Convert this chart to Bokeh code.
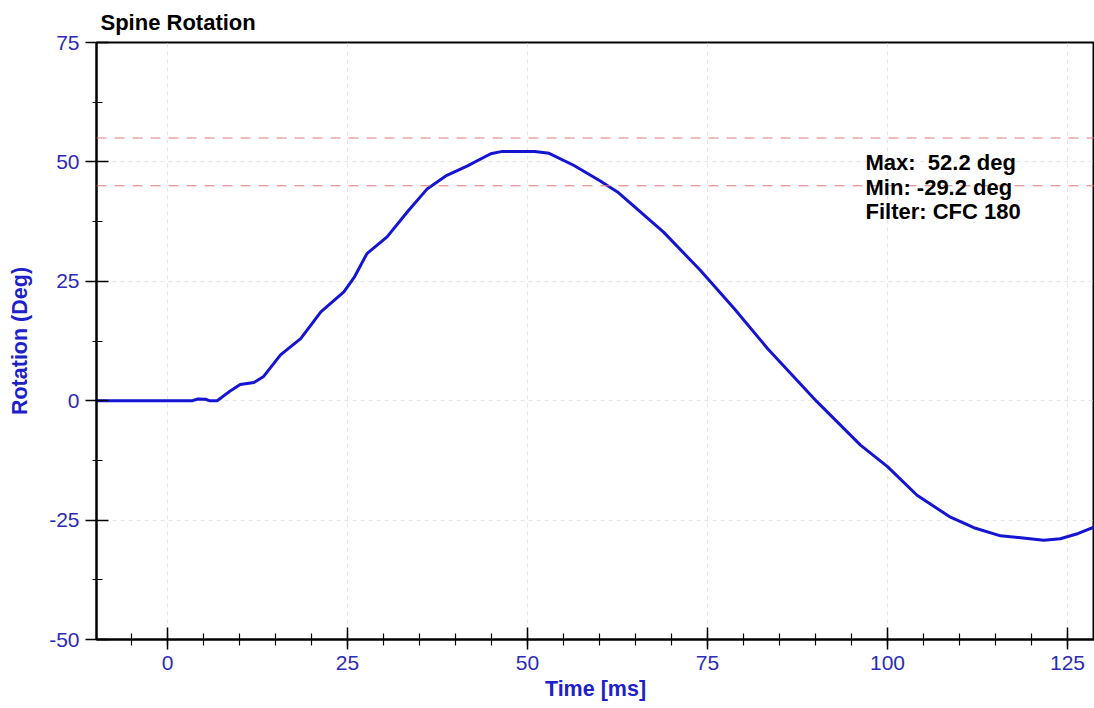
from bokeh.plotting import figure
from bokeh.models import Span, Label, SingleIntervalTicker, Range1d
from bokeh.embed import file_html
from bokeh.resources import INLINE

# ---- data ----
time_ms = [-10, 0, 3.5, 4.2, 5.3, 5.8, 6.9, 8.5, 10.1, 12.0, 13.3, 15.7, 18.5, 21.3,
           24.5, 26.0, 27.7, 30.5, 33.3, 36.1, 38.8, 41.6, 44.9, 46.5, 51.0, 53.0,
           56.4, 60.0, 62.5, 68.9, 74.0, 78.7, 83.3, 90.2, 96.25, 100.0, 104.1,
           108.75, 112.0, 115.7, 118.5, 121.7, 124.0, 126.5, 130.0]
rotation_deg = [0, 0, 0, 0.35, 0.3, 0, 0, 1.8, 3.4, 3.8, 5.0, 9.6, 13.0, 18.6,
                22.8, 26.0, 30.8, 34.3, 39.5, 44.4, 47.2, 49.1, 51.7, 52.2, 52.2, 51.8,
                49.3, 46.1, 43.7, 35.3, 27.3, 19.3, 11.0, -0.2, -9.3, -13.8, -19.8,
                -24.4, -26.6, -28.3, -28.7, -29.2, -28.9, -27.8, -25.7]
limit_lines = [55, 45]
y_ticks = [-50, -25, 0, 25, 50, 75]
y_tick_labels = ["-50", "-25", "0", "25", "50", "75"]
x_ticks = [0, 25, 50, 75, 100, 125]
x_tick_labels = ["0", "25", "50", "75", "100", "125"]
title_text = "Spine Rotation"
annotation_lines = ["Max: \u00a052.2 deg", "Min: -29.2 deg", "Filter: CFC 180"]

FONT = "Liberation Sans"
BLUE_TXT = "#2b2bb8"
BLUE_LBL = "#2020c8"

p = figure(width=1094, height=708, output_backend="svg", toolbar_location=None,
           x_range=Range1d(-9.86, 128.75), y_range=Range1d(-50, 75),
           min_border_left=96, min_border_right=0, min_border_top=41,
           min_border_bottom=69, title=title_text)

p.title.text_font = FONT
p.title.text_font_size = "22px"
p.title.text_font_style = "bold"
p.title.text_color = "black"
p.title.align = "left"
p.title.offset = 4
p.title.standoff = 15

p.outline_line_color = "black"
p.outline_line_width = 2
p.background_fill_color = "white"
p.border_fill_color = "white"

p.xaxis.ticker = SingleIntervalTicker(interval=25, num_minor_ticks=5)
p.yaxis.ticker = SingleIntervalTicker(interval=25, num_minor_ticks=2)
p.xaxis.major_label_overrides = dict(zip(x_ticks, x_tick_labels))
p.yaxis.major_label_overrides = dict(zip(y_ticks, y_tick_labels))

p.xaxis.axis_label = "Time [ms]"
p.yaxis.axis_label = "Rotation (Deg)"

for ax in (p.xaxis[0], p.yaxis[0]):
    ax.axis_line_color = "black"
    ax.axis_line_width = 2
    ax.major_tick_line_color = "black"
    ax.major_tick_line_width = 1.5
    ax.minor_tick_line_color = "black"
    ax.minor_tick_line_width = 1.2
    ax.major_label_text_font = FONT
    ax.major_label_text_font_size = "21px"
    ax.major_label_text_color = BLUE_TXT
    ax.axis_label_text_font = FONT
    ax.axis_label_text_font_size = "21.5px"
    ax.axis_label_text_font_style = "bold"
    ax.axis_label_text_color = BLUE_LBL

p.xaxis.major_tick_in = 12
p.xaxis.major_tick_out = 10
p.xaxis.minor_tick_in = 6
p.xaxis.minor_tick_out = 6
p.xaxis.major_label_standoff = 6
p.xaxis.axis_label_standoff = 4

p.yaxis.major_tick_in = 12
p.yaxis.major_tick_out = 11
p.yaxis.minor_tick_in = 6
p.yaxis.minor_tick_out = 4
p.yaxis.major_label_standoff = 6
p.yaxis.axis_label_standoff = 14

p.xgrid.grid_line_color = "#e6e6e6"
p.xgrid.grid_line_dash = "4 4"
p.ygrid.grid_line_color = "#e6e6e6"
p.ygrid.grid_line_dash = "4 4"

for yv in limit_lines:
    p.add_layout(Span(location=yv, dimension="width", line_color="#e07a7a",
                      line_width=1, line_dash="10 8"))

p.line(time_ms, rotation_deg, line_color="#1414d2", line_width=3)

for i, txt in enumerate(annotation_lines):
    p.add_layout(Label(x=769, y=477 - i * 24.5, x_units="screen", y_units="screen",
                       text=txt, text_font=FONT, text_font_size="22px",
                       text_font_style="bold", text_color="black",
                       text_baseline="middle", text_align="left"))

open("out.html", "w").write(file_html(p, INLINE))
